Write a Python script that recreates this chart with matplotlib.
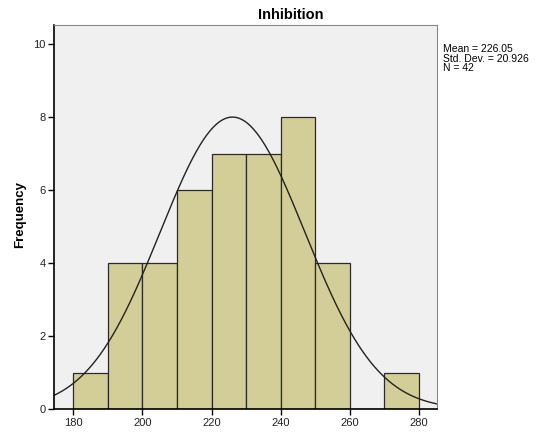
import numpy as np
import matplotlib.pyplot as plt

plt.rcParams['font.family'] = ['Liberation Sans', 'DejaVu Sans']

# bin edges and counts
bin_edges = [180, 190, 200, 210, 220, 230, 240, 250, 260, 270, 280]
counts = [1, 4, 4, 6, 7, 7, 8, 4, 0, 1]
mean = 226.05
std = 20.926
n = 42
x_ticks = [180, 200, 220, 240, 260, 280]
y_ticks = [0, 2, 4, 6, 8, 10]

fig = plt.figure(figsize=(5.36, 4.41), dpi=100)
ax = fig.add_axes([54.3 / 536, 31.7 / 441, 383 / 536, 384.3 / 441])
ax.set_facecolor('#F0F0F0')

lefts = bin_edges[:-1]
widths = np.diff(bin_edges)
ax.bar(lefts, counts, width=widths, align='edge', color='#D3CE97',
       edgecolor='#2a2a2a', linewidth=0.9)

# normal curve scaled to counts
xs = np.linspace(174.5, 285.3, 400)
bw = 10
ys = n * bw / (std * np.sqrt(2 * np.pi)) * np.exp(-0.5 * ((xs - mean) / std) ** 2)
ax.plot(xs, ys, color='#222222', linewidth=1.0)

ax.set_xlim(174.5, 285.3)
ax.set_ylim(0, 10.53)
ax.set_xticks(x_ticks)
ax.set_yticks(y_ticks)
ax.tick_params(axis='both', labelsize=8, length=4, width=1, direction='out',
               pad=2, colors='black', labelcolor='#222222')
for side in ['top', 'right']:
    ax.spines[side].set_color('#888888')
for side in ['left', 'bottom']:
    ax.spines[side].set_color('black')
    ax.spines[side].set_linewidth(1.2)

fig.text(20 / 536, 1 - 215 / 441, 'Frequency', rotation=90, ha='center',
         va='center', fontsize=9.5, fontweight='bold')
fig.text(291 / 536, 1 - 15 / 441, 'Inhibition', ha='center', va='center',
         fontsize=10.5, fontweight='bold')
fig.text(443 / 536, 1 - 44 / 441,
         'Mean = %.2f\nStd. Dev. = %.3f\nN = %d' % (mean, std, n),
         ha='left', va='top', fontsize=7.5, linespacing=0.95)

fig.savefig('out.png', dpi=100)
